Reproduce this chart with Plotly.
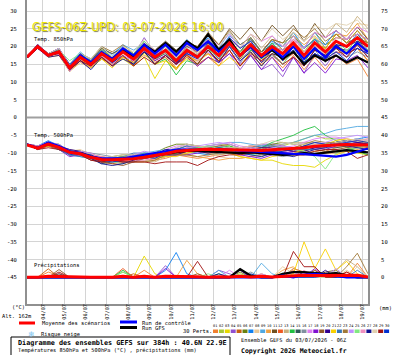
import plotly.graph_objects as go
import pandas as pd

# ---------------- data (12-hourly, 03/07/2026 06Z -> 19/07/2026 06Z) ----------------
START = "2026-07-03 06:00"
N_STEPS = 33
DAY_LABELS = ["04/07", "05/07", "06/07", "07/07", "08/07", "09/07", "10/07", "11/07",
              "12/07", "13/07", "14/07", "15/07", "16/07", "17/07", "18/07", "19/07"]
LEFT_TICKS = [30, 25, 20, 15, 10, 5, 0, -5, -10, -15, -20, -25, -30, -35, -40, -45]
RIGHT_TICKS = [75, 70, 65, 60, 55, 50, 45, 40, 35, 30, 25, 20, 15, 10, 5, 0]

T850_MEAN = [17, 20, 17.5, 18.5, 14, 17, 15, 18, 16, 18.5, 16.5, 19.5, 17, 19, 16, 19, 17, 20, 17.5, 21, 17.5, 20.5,
             17.5, 20, 18, 21, 17.5, 21, 18.5, 21.5, 20, 22.5, 20]
T850_CTRL = [17, 20, 17.5, 18.5, 14, 17.5, 15.5, 18.5, 16.5, 19.5, 17.5, 20.5, 18, 20.5, 17.5, 21, 19, 21.5, 18.5, 21, 17.5, 20,
             17, 19.5, 17, 20, 16.5, 19.5, 17, 20, 18, 21, 18.5]
T850_GFS = [17, 20, 17.5, 18.5, 14, 17, 15, 18, 16.5, 19, 17, 20.5, 18.5, 21, 18.5, 21.5, 19.5, 23.5, 19, 22, 17.5, 20,
            17, 19, 16.5, 18.5, 15, 17.5, 16, 17.5, 15.5, 17, 15.5]
T850_PERTS = [
    [17, 20, 18, 18.5, 13.5, 17, 14.5, 17, 15, 17, 15.5, 18.5, 15, 17.5, 14, 17, 14.5, 17, 14.5, 19, 14.5, 17.5, 15, 17, 14, 17.5, 13.5, 17, 13.5, 17.5, 15, 16.5, 11.5],
    [17, 20.5, 17.5, 19, 15, 18, 15.5, 19.5, 17, 19.5, 17, 21.5, 18.5, 20, 18, 20.5, 18, 20, 18.5, 21.5, 16.5, 19, 16.5, 20, 19, 23, 18.5, 22.5, 18.5, 20.5, 18.5, 22.5, 21],
    [17, 20, 17, 17.5, 13, 16, 14, 16.5, 15, 16.5, 14.5, 17, 11, 16, 14, 16.5, 15, 19, 16, 20, 17.5, 20, 16.5, 20, 17, 21, 18.5, 21, 17.5, 19.5, 18, 19.5, 16],
    [17, 20, 17.5, 19, 13.5, 16, 14, 18, 15, 18.5, 17.5, 22.5, 18, 20.5, 16, 18, 15, 19, 15.5, 18, 13.5, 17.5, 13.5, 15, 11.5, 17, 12.5, 18, 14.5, 18.5, 17, 20.5, 18],
    [17, 19.5, 17.5, 18, 13, 16.5, 14, 16.5, 15, 17.5, 14.5, 18.5, 15.5, 17, 13.5, 18, 15, 17, 15.5, 20, 17.5, 21.5, 17.5, 19, 18, 22, 19.5, 22, 18.5, 20.5, 18, 21.5, 19],
    [17, 20.5, 18, 18.5, 14.5, 17, 15.5, 19, 17, 18.5, 17, 20.5, 19, 20.5, 17, 21, 18, 20.5, 18.5, 21, 18.5, 22.5, 18.5, 22, 21, 23, 19.5, 24, 20.5, 22.5, 22, 23.5, 20],
    [17, 20, 18, 19.5, 14.5, 18, 16.5, 19, 18, 20, 17.5, 20, 17, 20, 18, 20, 19, 22.5, 18.5, 23, 20.5, 22.5, 18.5, 21.5, 20, 24, 19.5, 22, 20.5, 24.5, 22, 23.5, 22],
    [17, 20, 17.5, 18, 14, 17.5, 15, 17.5, 16.5, 19.5, 16.5, 19, 16, 19, 16.5, 18, 15.5, 18, 16.5, 20.5, 15.5, 19.5, 15.5, 17, 16, 20, 17.5, 20, 18.5, 22.5, 23, 26.5, 26],
    [17, 20.5, 17.5, 19, 15, 18.5, 16, 20, 17.5, 20.5, 19, 21, 18, 21, 18.5, 22, 19, 23, 19.5, 24, 19.5, 21.5, 17.5, 21, 20, 24, 19.5, 24, 19.5, 23.5, 21, 22.5, 19],
    [17, 20, 17, 18.5, 13, 15.5, 14, 17.5, 15, 17, 15.5, 17.5, 16, 18.5, 15, 19, 18, 20, 16.5, 21, 18.5, 20.5, 16.5, 20, 19, 23, 20.5, 23, 19.5, 23.5, 23, 26.5, 22],
    [17, 20, 17.5, 18.5, 14, 17.5, 16, 19.5, 18, 19.5, 18, 20.5, 19, 21.5, 19, 21, 20, 23.5, 20.5, 25, 22, 25.5, 21.5, 26, 23, 26, 21.5, 26.5, 22.5, 24.5, 22, 25.5, 22],
    [17, 19.5, 17.5, 18, 14, 16.5, 15, 17, 15.5, 18.5, 16, 19.5, 17.5, 19, 15, 17.5, 16, 18, 16, 19, 14.5, 18.5, 16, 19, 16, 18, 15.5, 20, 16.5, 18.5, 18, 19.5, 16],
    [17, 20, 18, 18.5, 14, 16.5, 15, 18.5, 16, 18, 16.5, 20.5, 18.5, 21, 17, 20.5, 19, 21, 19.5, 22, 19.5, 23.5, 19.5, 23, 20, 24, 21.5, 24, 22.5, 26.5, 24, 28.5, 25],
    [17, 20, 17.5, 19, 14.5, 18, 15.5, 18, 15.5, 17.5, 15, 18.5, 15, 16.5, 12, 16, 15, 19, 17.5, 20, 15.5, 19, 17.5, 21, 18, 20, 15.5, 20, 16.5, 20, 18, 21.5, 20],
    [17, 20.5, 17.5, 18.5, 13.5, 17, 14.5, 18, 16.5, 19.5, 17, 19.5, 16.5, 18, 15.5, 19, 17.5, 21, 17.5, 21.5, 18.5, 22, 18.5, 20.5, 18, 20, 17.5, 20, 17, 19.5, 19, 20.5, 17],
    [17, 20, 17, 18.5, 14.5, 17.5, 16, 18.5, 17, 20, 17.5, 21.5, 18, 20.5, 18, 20.5, 18, 20, 17, 20, 15.5, 19.5, 15.5, 17.5, 15, 19, 16.5, 19, 15.5, 19.5, 17, 18.5, 17],
    [17, 20, 17.5, 18, 14, 16.5, 14, 17.5, 16, 19, 17.5, 21, 19, 20.5, 17, 21, 19.5, 22, 20.5, 23.5, 19.5, 23.5, 21.5, 23, 20, 22, 19.5, 24, 22.5, 24.5, 22, 25.5, 24],
    [17, 20.5, 18, 19.5, 15, 17.5, 15, 18.5, 15.5, 18.5, 15.5, 19, 16, 17.5, 15, 17, 14.5, 17, 15.5, 18, 15, 17.5, 13.5, 17, 13, 17, 12.5, 15.5, 12.5, 16.5, 16, 17.5, 14],
    [17, 20, 18, 19, 14, 17, 15.5, 19, 16.5, 18.5, 16, 18.5, 16.5, 19, 16.5, 20, 18.5, 22, 18.5, 21, 16.5, 20.5, 18.5, 22, 19, 21, 16.5, 21, 19.5, 23.5, 21, 22.5, 21],
    [17, 19.5, 17, 17.5, 13.5, 16, 14.5, 18, 15.5, 17.5, 15, 18.5, 16.5, 19, 15.5, 18, 17, 21, 19.5, 22, 17.5, 19.5, 15.5, 19, 18, 20, 15.5, 18, 16.5, 20.5, 18, 19.5, 18],
    [17, 20, 17.5, 18.5, 13.5, 16.5, 14, 16.5, 14, 17, 15.5, 18, 15, 16, 13.5, 17, 16, 18, 14.5, 17, 14.5, 18.5, 14.5, 18, 17, 21, 18.5, 21, 19.5, 23.5, 21, 24.5, 21],
    [17, 20, 18, 19, 15, 17.5, 16, 18.5, 16, 19, 17.5, 20, 17, 18.5, 16, 19.5, 17, 19.5, 16.5, 20.5, 17.5, 21, 17.5, 19, 16, 20, 17.5, 22, 18.5, 20.5, 20, 23.5, 20],
    [17, 20, 17.5, 19, 14, 18, 16.5, 20, 18.5, 20.5, 18, 20.5, 17.5, 20, 17.5, 21, 20, 24, 20.5, 24.5, 20.5, 22.5, 18.5, 22, 21, 25, 22.5, 25, 21.5, 23.5, 21, 24.5, 21],
    [17, 20.5, 17.5, 18, 13, 16.5, 15, 17.5, 15, 17.5, 16, 19.5, 17.5, 20, 16, 18.5, 16, 18.5, 15.5, 20, 15.5, 19.5, 17, 20, 19, 23, 18.5, 21, 17.5, 21.5, 19, 20.5, 17],
    [17, 20, 17, 19, 16, 18, 15.5, 19, 16.5, 19.5, 18, 21.5, 18.5, 20, 16.5, 19, 16.5, 19, 17.5, 21.5, 18.5, 20.5, 16.5, 18, 15, 19, 14.5, 19, 17.5, 21.5, 19, 20.5, 19],
    [17, 20, 17.5, 18.5, 14.5, 17, 14.5, 17, 14.5, 17.5, 16, 19.5, 17.5, 19, 17, 20.5, 18, 20.5, 17.5, 22, 19.5, 21.5, 17.5, 19, 18, 22, 17.5, 20, 18.5, 22.5, 22, 23.5, 22],
    [17, 19.5, 17.5, 18.5, 13.5, 16, 13.5, 17, 14.5, 16.5, 15, 18.5, 15, 17.5, 15, 18.5, 17, 19, 15.5, 20, 16, 18.5, 14.5, 18, 17, 19, 14.5, 19, 17.5, 20.5, 20, 21.5, 20],
    [17, 20, 18, 19.5, 14.5, 18, 16.5, 20, 17, 20, 18.5, 22, 19, 20.5, 17, 19.5, 18, 22, 20, 24, 19.5, 23.5, 21.5, 25, 22, 24, 21.5, 26, 24.5, 26.5, 26, 27.5, 24],
    [17, 20, 17.5, 18, 13.5, 16, 14.5, 17, 14.5, 17.5, 14.5, 17, 15, 17.5, 15, 17.5, 15, 19, 16, 19, 14.5, 18, 16, 18, 15, 17, 14.5, 19, 17.5, 19.5, 17, 20.5, 17],
    [17, 20.5, 17.5, 18.5, 14.5, 18, 15.5, 18, 16.5, 19.5, 17, 20.5, 17.5, 19, 15.5, 18, 16.5, 20, 18.5, 22.5, 19.5, 21.5, 17.5, 19, 16, 20, 15.5, 18, 16.5, 18.5, 16, 19.5, 18],
]

T500_MEAN = [-7.7, -8.6, -7.5, -8.4, -9.8, -10.2, -11.2, -11.8, -11.9, -11.8, -11.6, -11.2, -10.8, -10.2, -9.5, -9.2, -9.1,
             -8.9, -9.0, -9.1, -9.3, -9.4, -9.3, -9.1, -8.9, -8.8, -8.5, -8.1, -7.8, -7.7, -7.6, -7.6, -7.7]
T500_CTRL = [-7.5, -8.5, -7, -8, -9.5, -10, -11, -11.5, -11.5, -11.5, -11, -10.5, -10, -9.5, -9, -9, -9, -8.8, -8.8, -9, -9.3,
             -9.5, -9.8, -10, -10.2, -10.2, -10.3, -10.5, -10.8, -11, -10.5, -9.5, -8.7]
T500_GFS = [-7.7, -8.6, -7.5, -8.3, -9.6, -10, -11, -11.6, -11.8, -11.7, -11.4, -11, -10.6, -10, -9.6, -9.4, -9.4, -9.6, -9.8,
            -10, -10, -9.8, -10, -10.3, -10.5, -10.3, -10, -10.2, -9.8, -9.5, -9.2, -9.5, -9.8]
T500_PERTS = [
    [-7.5, -8.5, -7.5, -8, -10, -10.5, -11, -11.5, -11, -11.5, -11.5, -11.5, -12, -11.5, -10.5, -11, -11.5, -11, -10.5, -10, -10, -9.5, -9, -8, -8.5, -9, -9, -9, -9.5, -8.5, -8, -7.5, -8],
    [-7.5, -8, -7, -8.5, -10.5, -10, -10.5, -12, -12.5, -12, -11, -10, -10.5, -10, -10, -9, -8.5, -8, -7.5, -8, -9, -9.5, -10, -9, -8, -7, -6, -5, -6, -6, -6.5, -7, -7.5],
    [-7.5, -8.5, -8, -9, -10, -9.5, -11, -12.5, -12, -11.5, -10.5, -10.5, -11, -10.5, -10.5, -9.5, -9, -8.5, -9, -10, -11, -11.5, -12, -12, -13, -13.5, -13.5, -14, -12, -10.5, -9.5, -10, -10.5],
    [-7.5, -8.5, -7, -8, -10, -10.5, -12, -12.5, -12, -11.5, -11.5, -11.5, -11, -9.5, -8.5, -7.5, -8, -8.5, -9, -8.5, -8.5, -8, -7.5, -7.5, -8, -8.5, -8.5, -8.5, -8, -7, -6.5, -6, -6.5],
    [-7.5, -9, -7.5, -8, -9.5, -10, -10.5, -11, -11.5, -12, -12, -11, -10.5, -10, -10, -10, -9.5, -9, -8.5, -9, -10, -10.5, -11, -10, -9.5, -9, -8, -7, -7.5, -7.5, -8, -7.5, -7],
    [-7.5, -8.5, -7.5, -9, -10.5, -10, -10.5, -11.5, -11, -10.5, -10.5, -10.5, -10, -8.5, -7.5, -7.5, -8, -8.5, -9, -9.5, -9.5, -9, -8.5, -7.5, -7, -7.5, -7.5, -7.5, -8, -7, -6.5, -7, -7.5],
    [-7.5, -8, -6.5, -8, -9.5, -10, -11.5, -12.5, -12, -12.5, -12.5, -11.5, -11, -9.5, -9.5, -9.5, -10, -10.5, -10, -9.5, -9.5, -9, -9.5, -9.5, -10, -10.5, -9.5, -8.5, -8, -7, -6.5, -6, -5.5],
    [-7.5, -8.5, -8, -8.5, -9.5, -9, -10.5, -12, -12.5, -13, -12, -11, -10.5, -9, -9, -9, -9.5, -10, -11, -11.5, -11.5, -11, -10.5, -9.5, -9, -8.5, -7.5, -7.5, -8, -8, -8.5, -8, -7.5],
    [-7.5, -8.5, -7.5, -8.5, -10.5, -11, -11.5, -12, -11.5, -12, -11, -10, -9.5, -9, -9, -9, -8.5, -8, -7.5, -7, -7, -7.5, -8, -8, -7.5, -7, -6, -5, -4.5, -3.5, -3, -2.5, -2.5],
    [-7.5, -9, -8, -8.5, -10, -9.5, -10, -11.5, -12, -12.5, -12.5, -12.5, -12, -10.5, -10.5, -10.5, -11, -11.5, -12, -11.5, -11.5, -11, -10.5, -9.5, -9, -9.5, -9.5, -9.5, -10, -10, -9.5, -9, -8.5],
    [-7.5, -8.5, -7, -8.5, -10.5, -10.5, -11, -11.5, -11.5, -11, -11, -11, -11.5, -11, -10, -9, -8.5, -9, -9.5, -10, -10, -9.5, -9, -8, -8.5, -9, -9, -9, -9.5, -9.5, -9, -8.5, -8],
    [-7.5, -8, -7.5, -9, -10, -9.5, -11, -12.5, -13, -12.5, -11.5, -10.5, -11, -10.5, -9.5, -8.5, -8, -8.5, -9, -8.5, -8.5, -8, -8.5, -8.5, -9, -9.5, -9.5, -8.5, -8, -7, -7.5, -8, -8.5],
    [-7.5, -8.5, -7.5, -8, -9, -9.5, -11, -12, -11.5, -12, -12, -12, -12.5, -11, -10, -9, -9.5, -10, -10.5, -10, -10, -9.5, -9, -8, -7.5, -7, -7, -7, -7.5, -7.5, -7, -6.5, -6],
    [-7.5, -8.5, -7, -7.5, -9.5, -10, -11.5, -12, -11.5, -11, -11, -11, -11.5, -10, -9, -9, -9.5, -9, -8.5, -8, -9, -9.5, -8.5, -7, -6, -5, -3.5, -2.5, -5, -6.5, -8.5, -9.5, -10.5],
    [-7.5, -9, -7.5, -8.5, -9.5, -10, -11.5, -13, -12.5, -12, -11, -11, -11.5, -10, -9, -8, -8.5, -9, -9.5, -9, -9, -9.5, -10, -10, -9.5, -9, -8, -8, -8.5, -8.5, -8, -7.5, -7],
    [-7.5, -8.5, -8, -9, -10, -9.5, -10, -10.5, -11, -11.5, -11.5, -10.5, -10, -9.5, -9.5, -9.5, -9, -8.5, -8, -8.5, -9.5, -10, -10.5, -10.5, -11, -10.5, -9.5, -8.5, -8, -7, -7.5, -8, -7.5],
    [-7.5, -8, -7, -7.5, -9.5, -10, -10.5, -12, -12.5, -13, -12, -11, -10.5, -9, -8, -8, -8.5, -8, -7.5, -7, -8, -8.5, -9, -9, -8.5, -8, -7, -6, -5.5, -5.5, -6, -6.5, -7],
    [-7.5, -8.5, -7.5, -9, -11, -10.5, -11, -11.5, -12, -12.5, -12.5, -11.5, -11, -10.5, -10.5, -10.5, -10, -9.5, -9, -9.5, -10.5, -11, -11.5, -10.5, -10, -9.5, -8.5, -8.5, -9, -8, -7.5, -7, -7.5],
    [-7.5, -9, -8, -9, -10, -9.5, -11, -12.5, -13, -13.5, -12.5, -11.5, -11, -9.5, -9.5, -9.5, -9, -8.5, -8, -7.5, -8.5, -9, -9.5, -9.5, -10, -10.5, -10.5, -10.5, -10, -9, -8.5, -8, -7.5],
    [-7.5, -8.5, -7, -8, -9, -9.5, -11, -12.5, -12, -11.5, -10.5, -10.5, -11, -10.5, -10.5, -9.5, -9, -8.5, -9, -9.5, -9.5, -9, -8.5, -8.5, -9, -9.5, -9.5, -8.5, -8, -7, -6.5, -7, -7.5],
    [-7.5, -8.5, -8, -8.5, -9.5, -10, -11.5, -12, -11.5, -11, -11, -11, -11.5, -11, -11, -10, -9.5, -9, -9.5, -10, -11, -11.5, -12, -11, -10.5, -10, -9, -8, -7.5, -6.5, -6, -6.5, -7],
    [-7.5, -8, -7.5, -9, -10.5, -11, -11.5, -12, -11.5, -11, -10, -10, -10.5, -10, -9, -8, -8.5, -9, -9.5, -9, -9, -8.5, -8, -8, -8.5, -9, -9, -9, -8.5, -7.5, -7, -7.5, -8],
    [-7.5, -8.5, -7, -8.5, -10, -10.5, -12, -12.5, -12, -12.5, -12.5, -12.5, -12, -10.5, -10.5, -10.5, -11, -10.5, -10, -9.5, -9.5, -9, -9.5, -9.5, -9, -8.5, -7.5, -6.5, -7, -7, -7.5, -8, -7.5],
    [-7.5, -9, -7.5, -8, -10, -9.5, -10, -11.5, -12, -11.5, -10.5, -9.5, -10, -9.5, -9.5, -8.5, -8, -7.5, -7, -7.5, -8.5, -9, -9.5, -8.5, -8, -8.5, -8.5, -7.5, -7, -6, -5.5, -5, -5.5],
    [-7.5, -8.5, -7.5, -8.5, -10.5, -10, -10.5, -12, -12.5, -13, -12, -11, -10.5, -10, -10, -9, -8.5, -8, -8.5, -9, -10, -10.5, -10, -9, -8.5, -9, -9.5, -11, -14.5, -10, -9, -8.5, -8],
    [-7.5, -8, -7, -8.5, -10.5, -10, -10.5, -11, -11.5, -12, -12, -12, -11.5, -10, -9, -9, -9.5, -10, -9.5, -9, -9, -8.5, -9, -9, -9.5, -10, -10, -9, -8.5, -7.5, -7, -6.5, -6],
    [-7.5, -8.5, -7.5, -8, -9.5, -10, -11.5, -13, -13.5, -13, -12, -11, -10.5, -9, -9, -9, -9.5, -10, -9.5, -9, -9, -9.5, -10, -10, -10.5, -11, -10, -9, -8.5, -7.5, -8, -8.5, -9],
    [-7.5, -8.5, -7, -8, -10, -10.5, -11, -11.5, -11, -10.5, -10.5, -10.5, -11, -9.5, -8.5, -7.5, -8, -8.5, -9, -8.5, -8.5, -8, -7.5, -6.5, -7, -7.5, -7.5, -7.5, -8, -7, -6.5, -6, -6.5],
    [-7.5, -9, -8.5, -9, -10, -10.5, -12, -12.5, -12, -12.5, -12.5, -12.5, -13, -12.5, -12.5, -12.5, -13.5, -12, -11, -10.5, -10.5, -10, -9.5, -9.5, -10, -10.5, -10.5, -9.5, -9, -9, -9.5, -11.5, -10.5],
    [-7.5, -8.5, -7, -8.5, -10.5, -10, -10.5, -12, -12.5, -12, -11, -11, -11.5, -10, -9, -9, -9.5, -9, -8.5, -9, -10, -10.5, -11, -10, -9.5, -9, -8, -7, -7.5, -7.5, -7, -6.5, -7],
]

PRECIP_MEAN = [0, 0, .3, .2, 0, 0, 0, 0, 0, .3, 0, .3, 0, .3, .3, .2, .2, 0, .2, .1, .3, .1,
               .3, .1, .3, .6, .6, .5, .5, .4, .5, .6, .1]
PRECIP_CTRL = [0, 0, 0, 0, 0, 0, 0, 0, 0, 0, 0, 0, 0, 0, 0, 0, 0, 0, 0, 0, 0, 0,
               0, 0, .5, 0, .8, 1, .8, .5, 0, 0, 0]
PRECIP_GFS = [0, 0, 0, 0, 0, 0, 0, 0, 0, 0, 0, 0, 0, 0, 0, 0, 0, 0, 0, 0, 2.3, .5,
              0, 0, 1, 1.5, 1.5, 1.2, 1, 1.2, .5, 0, 0]
PRECIP_PERTS = [
    [0, 0, 1.5, .5, 0, 0, 0, 0, 0, 0, 0, 2, 0, 0, 0, 0, 0, 0, 0, 0, 0, 0, 1, 0, 0, 0, 0, 2, .5, 0, 0, 4, 0],
    [0, 0, 0, 0, 0, 0, 0, 0, 0, 1.5, 0, 0, 0, 0, 0, 0, 0, 0, 0, 0, 1, 0, 0, 0, 0, 0, 0, 0, 0, 0, 0, 0, 0],
    [0, 0, 0, 0, 0, 0, 0, 0, 0, 0, 0, 6, 1, 0, 0, 0, 0, 0, 0, 0, 0, 0, 0, 0, 0, 0, 0, 0, 0, 0, 0, 0, 0],
    [0, 0, 0, 1, 0, 0, 0, 0, 0, 0, 0, 0, 0, 3.3, 0, 0, 0, 0, 2, 1, 0, 0, 0, 0, 0, 0, 0, 0, 0, 0, 0, 0, 0],
    [0, 0, 2.4, 0, 0, 0, 0, 0, 0, 0, 1, 0, 0, 0, 0, 0, 0, 0, 0, 0, 0, 0, 0, 0, 0, 2.5, 1.5, 0, 0, 0, 0, 0, 0],
    [0, 0, 0, 0, 0, 0, 0, 0, 0, 0, 0, 0, 0, 0, 0, 0, 0, 0, 0, 0, 1.5, 0, 0, 0, .5, 0, 0, 0, 0, 0, 0, 0, 0],
    [0, 0, 0, 0, 0, 0, 0, 0, 0, 0, 0, 0, 0, 2, 7, 1, 0, 0, 0, 0, 0, 0, 0, 0, 0, 0, 0, 0, 0, 0, 0, 0, 0],
    [0, 0, 0, 0, 0, 0, 0, 0, 0, 0, 0, 0, 0, 0, 0, 0, 0, 0, 0, 0, 0, 0, 1, 0, 3, 1, 0, 0, 0, 0, 2, 0, 0],
    [0, 0, 0, 0, 0, 0, 0, 0, 0, 0, 0, 0, 0, 0, 0, 0, 0, 0, 2, 0, 0, 0, 4, 1, 0, 0, 0, 0, 0, 0, 0, 0, 0],
    [0, 0, 0, 0, 0, 0, 0, 0, 0, 0, 0, 0, 0, 0, 0, 4.8, 1, 0, 0, 0, 0, 0, 0, 0, 2, 3, 0, 0, 0, 0, 0, 0, 0],
    [0, 0, 0, 1, 0, 0, 0, 0, 0, 0, 0, 0, 0, 0, 0, 0, 0, 0, 0, 0, 0, 0, 0, 0, 0, 0, 0, 0, 1.5, 2, 0, 0, 0],
    [0, 0, 0, 0, 0, 0, 0, 0, 0, 2.5, 0, 0, 0, 0, 0, 0, 0, 0, 0, 0, 0, 0, 0, 0, 0, 2, 0, 0, 0, 0, 1.5, 0, 0],
    [0, 0, 0, 0, 0, 0, 0, 0, 0, 0, 0, 0, 0, 0, 0, 0, 0, 0, 0, 0, 0, 0, 0, 0, 0, 0, 0, 0, 0, 2, 5, 3, 0],
    [0, 0, 0, 0, 0, 0, 0, 0, 0, 2, 0, 0, 0, 0, 0, 0, 0, 0, 1, 0, 0, 0, 0, 0, 0, 0, 0, 0, 1, 0, 0, 0, 0],
    [0, 0, 0, 0, 0, 0, 0, 0, 0, 0, 0, 0, 0, 0, 0, 0, 0, 0, 0, 0, 0, 0, 0, 0, 0, 0, 0, 1, 0, 0, 0, 0, 0],
    [0, 0, 0, 0, 0, 0, 0, 0, 0, 0, 0, 0, 0, 0, 0, 0, 0, 0, 0, 0, 0, 1.5, 0, 0, 0, 0, 0, 0, 0, 0, 0, 0, 0],
    [0, 0, 0, 0, 0, 0, 0, 0, 0, 0, 0, 0, 0, 0, 0, 0, 0, 0, 0, 2, 0, 0, 0, 0, 0, 1.5, 0, 0, 0, 0, 0, 0, 0],
    [0, 0, 0, 0, 0, 0, 0, 0, 0, 0, 0, 0, 0, 2.5, 0, 0, 0, 0, 0, 0, 2, 0, 0, 0, 0, 0, 0, 2.5, 0, 0, 0, 0, 0],
    [0, 0, 0, 2.2, 0, 0, 0, 0, 0, 0, 0, 0, 0, 0, 0, 0, 1, 0, 0, 0, 0, 0, 0, 0, 0, 0, 0, 2, 0, 0, 0, 0, 0],
    [0, 0, 0, 0, 0, 0, 0, 0, 0, 0, 0, 0, 0, 0, 0, 0, 0, 0, 0, 0, 0, 0, 0, 0, 0, 0, 1.5, 0, 2, 0, 0, 0, 0],
    [0, 0, 0, 0, 0, 0, 0, 0, 0, 0, 0, 0, 0, 0, 0, 0, 0, 0, 0, 0, 0, 0, 0, 0, 0, 1, 10, 2.5, 8, 2, 4.5, 1, 0],
    [0, 0, 0, 0, 0, 0, 0, 0, 0, 0, 0, 0, 0, 0, 0, 0, 0, 0, 0, 0, 0, 0, 0, 0, 0, 0, 0, 0, 0, 1.5, 0, 2, 0],
    [0, 0, 0, 0, 0, 0, 0, 0, 0, 0, 0, 0, 0, 0, 0, 0, 0, 0, 0, 0, 0, 0, 0, 0, 0, 0, 0, 0, 0, 0, 3, 6.8, 1],
    [0, 0, 0, 0, 0, 0, 0, 0, 0, 0, 0, 0, 0, 0, 0, 0, 0, 0, 0, 0, 0, 0, 1, 0, 0, 0, 0, 0, 0, 2.5, 0, 0, 0],
    [0, 0, 0, 0, 0, 0, 0, 0, 0, 1.5, 0, 0, 0, 0, 0, 0, 0, 1, 0, 0, 0, 0, 0, 0, 0, 0, 0, 0, 0, 0, 0, 0, 0],
    [0, 0, 0, 0, 0, 0, 0, 0, 0, 0, 0, 0, 0, 0, 0, 0, 0, 0, 0, 0, 0, 0, 0, 0, 0, 0, 2, 0, 1, 0, 0, 0, 0],
    [0, 0, 0, 0, 0, 0, 0, 0, 0, 0, 0, 0, 0, 0, 0, 0, 0, 0, 1, 0, 0, 0, 0, 0, 0, 0, 0, 1, 0, 0, 0, 0, 0],
    [0, 0, 0, 0, 0, 0, 0, 0, 0, 0, 0, 0, 0, 0, 0, 0, 0, 0, 0, 0, .5, 0, 0, 0, 0, 0, 0, 0, 0, 0, 0, 3, 0],
    [0, 0, 0, 1.5, 0, 0, 0, 0, 0, 0, 0, 0, 0, 0, 0, 0, 4.5, 0, 0, 0, 0, 0, 0, 0, 0, 7.3, 3, 3, 0, 0, 1.5, 0, 0],
    [0, 0, 0, 0, 0, 0, 0, 0, 0, 0, 0, 0, 0, 0, 0, 0, 0, 0, 0, 0, 0, 1, 0, 0, 0, 0, 0, 0, .5, 0, 0, 0, 0],
]

PERT_COLORS = ["#f08030", "#a8c838", "#e8d800", "#9050d0", "#c86010", "#688010", "#1080f0", "#e8c898",
               "#50a8e0", "#f0a040", "#705020", "#f05820", "#c8b080", "#20c040", "#305858", "#8090a0",
               "#e080f0", "#8010d0", "#905828", "#300090", "#f8d000", "#3878b8", "#a07838", "#c090ff",
               "#80e880", "#f090c0", "#101090", "#e0d0b0", "#a01010", "#0030d0"]
PERT_NAMES = ["%02d" % (i + 1) for i in range(30)]

# ---------------- figure ----------------
W, H = 395, 355
ML, MR, MT, MB = 27, 27, 0, 51
PW, PH = W - ML - MR, H - MT - MB
Y_RANGE = [-52.5, 33.1]
Y2_RANGE = [Y_RANGE[0] + 45, Y_RANGE[1] + 45]

times = pd.date_range(START, periods=N_STEPS, freq="12h")
day_ticks = pd.date_range("2026-07-04", periods=len(DAY_LABELS), freq="D")

MONO = "DejaVu Sans Mono"
fig = go.Figure()


def add_line(y, color, width, axis="y"):
    fig.add_trace(go.Scatter(x=times, y=y, mode="lines", yaxis=axis,
                             line=dict(color=color, width=width),
                             hoverinfo="skip", showlegend=False))


# perturbations
for k in range(30):
    add_line(T850_PERTS[k], PERT_COLORS[k], 0.9)
for k in range(30):
    add_line(T500_PERTS[k], PERT_COLORS[k], 0.9)
for k in range(30):
    add_line(PRECIP_PERTS[k], PERT_COLORS[k], 0.9, "y2")
# GFS, control, mean
for series, axis in ((T850_GFS, "y"), (T500_GFS, "y"), (PRECIP_GFS, "y2")):
    add_line(series, "#000000", 2.2, axis)
for series, axis in ((T850_CTRL, "y"), (T500_CTRL, "y"), (PRECIP_CTRL, "y2")):
    add_line(series, "#0000ff", 2.2, axis)
for series, axis in ((T850_MEAN, "y"), (T500_MEAN, "y"), (PRECIP_MEAN, "y2")):
    add_line(series, "#ff0000", 3, axis)


def px(x):
    return (x - ML) / PW


def py(y):
    return (MT + PH - y) / PH


shapes = []
annotations = []


def text(x, y, s, size=5.4, color="#000", bold=False, anchor="left", font=MONO, shadow=None):
    f = dict(family=font, size=size, color=color, weight=700 if bold else 400)
    if shadow:
        f["shadow"] = shadow
    annotations.append(dict(x=px(x), y=py(y), xref="paper", yref="paper", text=s, showarrow=False,
                            xanchor=anchor, yanchor="middle", font=f))


# separator between the 850 hPa and 500 hPa panels
shapes.append(dict(type="line", xref="paper", yref="y", x0=0, x1=1, y0=0, y1=0,
                   line=dict(color="#a0a0a0", width=2)))

# title & panel labels
text(30, 27, "GEFS-06Z-UPD: 03-07-2026 16:00", size=12.5, color="#f2ea00",
     font="DejaVu Sans Condensed, Liberation Sans Narrow, DejaVu Sans Mono", shadow="1px 1px 1px #777744")
text(32, 40, "Temp. 850hPa")
text(32, 136, "Temp. 500hPa")
text(32, 265, "Précipitations")
text(10, 306.5, "(°C)")
text(377, 308, "(mm)")
text(0, 316, "Alt. 162m")

# legend
shapes.append(dict(type="line", xref="paper", yref="paper", x0=px(19), x1=px(35), y0=py(323), y1=py(323),
                   line=dict(color="#ff0000", width=3)))
text(40, 323.5, "Moyenne des scénarios")
shapes.append(dict(type="line", xref="paper", yref="paper", x0=px(120), x1=px(137), y0=py(322), y1=py(322),
                   line=dict(color="#0000ff", width=3)))
text(140, 322.5, "Run de contrôle")
shapes.append(dict(type="line", xref="paper", yref="paper", x0=px(120), x1=px(137), y0=py(327.5), y1=py(327.5),
                   line=dict(color="#000000", width=3)))
text(140, 328, "Run GFS")
text(31.7, 334, "❄", size=8, color="#7cc4f0", anchor="center", font="DejaVu Sans")
text(39, 334, "Risque neige")
text(181, 330.5, "30 Perts.")
for k in range(30):
    x0 = 213 + k * 5.9
    shapes.append(dict(type="rect", xref="paper", yref="paper", x0=px(x0), x1=px(x0 + 5), y0=py(333), y1=py(329.5),
                       line=dict(width=0), fillcolor=PERT_COLORS[k]))
    text(x0 + 2.5, 326.5, PERT_NAMES[k], size=3.6, anchor="center")

# info box
shapes.append(dict(type="rect", xref="paper", yref="paper", x0=px(11), x1=px(230), y0=py(360), y1=py(337),
                   line=dict(color="#000", width=1), fillcolor="rgba(0,0,0,0)"))
text(16, 343, "Diagramme des ensembles GEFS sur 384h : 40.6N 22.9E", size=6.8, bold=True)
text(16, 350.5, "Températures 850hPa et 500hPa (°C) , précipitations (mm)", size=5.3)
text(239, 340, "Ensemble GEFS du 03/07/2026 - 06Z", size=5.3)
text(239, 350.7, "Copyright 2026 Meteociel.fr", size=6.5, bold=True)

fig.update_layout(
    width=W, height=H,
    margin=dict(l=ML, r=MR, t=MT, b=MB, pad=0),
    paper_bgcolor="white", plot_bgcolor="white",
    showlegend=False,
    shapes=shapes, annotations=annotations,
    xaxis=dict(type="date", range=[times[0], times[-1]], tickvals=day_ticks, ticktext=DAY_LABELS,
               tickangle=-90, tickfont=dict(family=MONO, size=5.2, color="#000"), ticklabelstandoff=-4,
               showgrid=True, gridcolor="#d4d4d4", gridwidth=1, ticks="",
               showline=True, linecolor="#909090", linewidth=2, zeroline=False),
    yaxis=dict(range=Y_RANGE, tickvals=LEFT_TICKS, ticktext=[str(v) for v in LEFT_TICKS],
               tickfont=dict(family=MONO, size=5.5, color="#000"), ticklabelstandoff=7,
               showgrid=True, gridcolor="#d4d4d4", gridwidth=1, ticks="",
               showline=True, linecolor="#909090", linewidth=2, zeroline=False),
    yaxis2=dict(range=Y2_RANGE, overlaying="y", side="right", tickvals=RIGHT_TICKS,
                ticktext=[str(v) for v in RIGHT_TICKS],
                tickfont=dict(family=MONO, size=5.5, color="#000"), ticklabelstandoff=10,
                showgrid=False, ticks="", showline=True, linecolor="#909090", linewidth=2, zeroline=False),
)

fig.write_html("out.html", config={"displayModeBar": False, "staticPlot": True})
